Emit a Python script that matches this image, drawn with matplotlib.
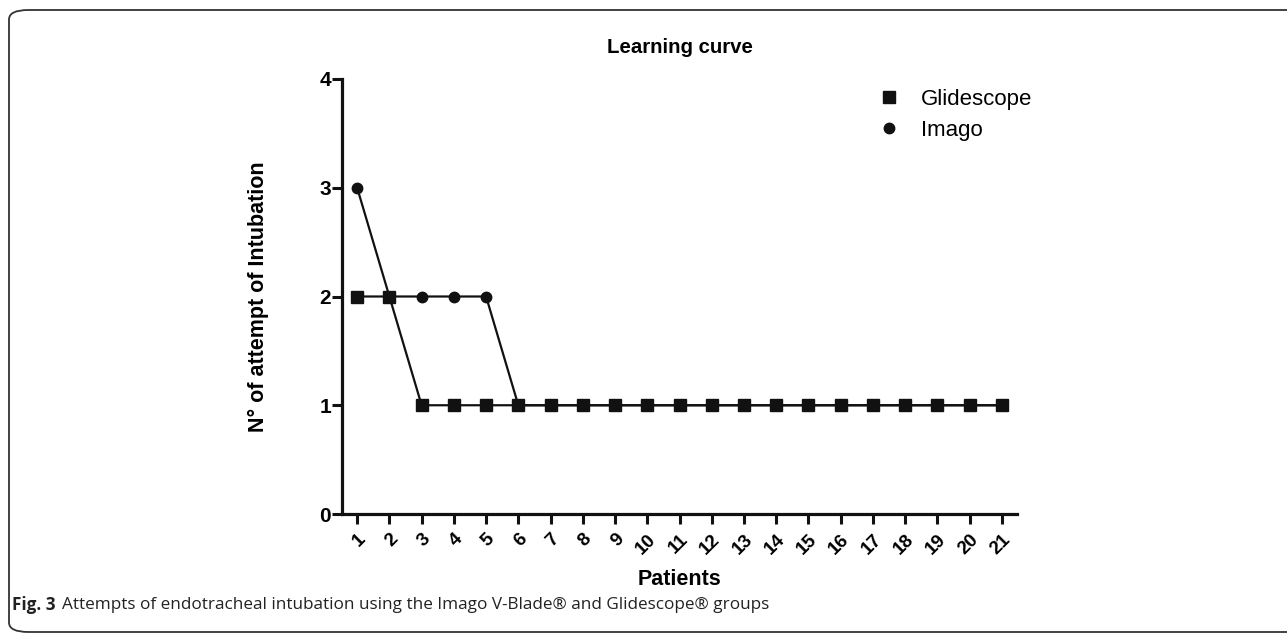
import matplotlib
matplotlib.use("Agg")
import matplotlib.pyplot as plt
from matplotlib.patches import FancyBboxPatch

patients = list(range(1, 22))
tick_labels = [str(p) for p in patients]
glidescope = [2, 2] + [1] * 19
imago = [3, 2, 2, 2, 2] + [1] * 16

W, H = 1287, 634
fig = plt.figure(figsize=(W / 100, H / 100), dpi=100)
fig.patch.set_facecolor("white")

# outer rounded frame
frame = FancyBboxPatch((9 / W, 2 / H), 1.2, (H - 12) / H,
                       boxstyle="round,pad=0,rounding_size=0.015",
                       transform=fig.transFigure, fill=False,
                       edgecolor="#333333", linewidth=1.3, clip_on=False)
fig.patches.append(frame)

ax = fig.add_axes([342 / W, 1 - 514 / H, (1017 - 342) / W, (514 - 79) / H])
col = "#111111"
ax.plot(patients, imago, color=col, lw=1.6, marker="o", ms=7.5, label="Imago", zorder=3)
ax.plot(patients, glidescope, color=col, lw=1.6, marker="s", ms=8, label="Glidescope", zorder=4)

ax.set_xlim(0.53, 21.47)
ax.set_ylim(0, 4)
ax.set_yticks([0, 1, 2, 3, 4])
ax.set_xticks(patients)
ax.set_xticklabels(tick_labels, rotation=45, ha="right", rotation_mode="anchor",
                   fontsize=13.5, fontweight="bold", family="Liberation Sans")
for lab in ax.get_yticklabels():
    lab.set_fontweight("bold"); lab.set_fontsize(15); lab.set_family("Liberation Sans")
ax.spines["top"].set_visible(False)
ax.spines["right"].set_visible(False)
for s in ("left", "bottom"):
    ax.spines[s].set_linewidth(2.3)
    ax.spines[s].set_color(col)
ax.tick_params(axis="both", length=7, width=2.2, color=col, pad=1)
ax.tick_params(axis="x", pad=5)

ax.set_title("Learning curve", fontsize=14.7, fontweight="bold", family="Liberation Sans", pad=19)
ax.set_ylabel("N° of attempt of Intubation", fontsize=15.5, fontweight="bold",
              family="Liberation Sans", labelpad=36)
ax.set_xlabel("Patients", fontsize=15.5, fontweight="bold", family="Liberation Sans", labelpad=8.5)

handles, labels = ax.get_legend_handles_labels()
leg = ax.legend(handles[::-1], labels[::-1], loc="upper left", bbox_to_anchor=(0.7645, 1.023),
                frameon=False, handlelength=1.0, handletextpad=0.95, labelspacing=0.45,
                prop={"family": "Liberation Sans", "size": 16})
for h in leg.legend_handles:
    h.set_linestyle("None")

t1 = fig.text(12 / W, 1 - 605 / H, "Fig. 3", fontsize=12.3, va="center", ha="left",
              family="Open Sans", fontweight="bold", color="#222222")
fig.canvas.draw()
bb = t1.get_window_extent()
fig.text((bb.x1 + 6) / W, 1 - 605 / H,
         "Attempts of endotracheal intubation using the Imago V-Blade\u00ae and Glidescope\u00ae groups",
         fontsize=12.3, va="center", ha="left", family="Open Sans", color="#222222")

fig.savefig("out.png", dpi=100)
